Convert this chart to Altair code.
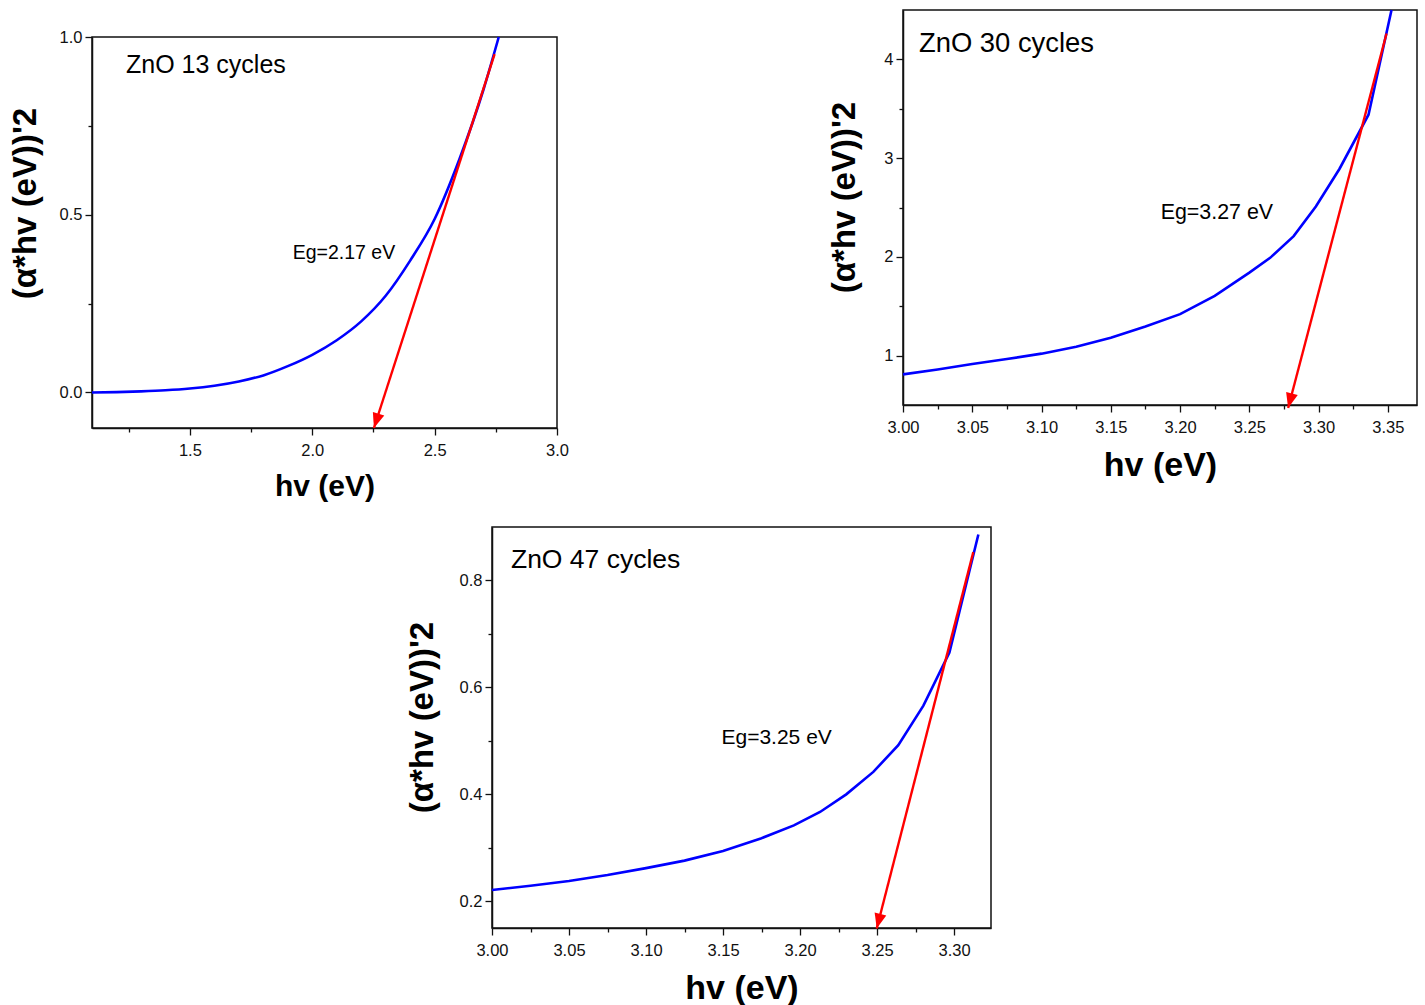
import altair as alt
import pandas as pd

FONT = "Liberation Sans"
INK = "#111111"
BLUE = "#0000ff"
RED = "#ff0000"

# ---------------- Panel 1 : ZnO 13 cycles ----------------
p1_hv = [1.10, 1.20, 1.30, 1.40, 1.50, 1.60, 1.70, 1.80, 1.90, 2.00, 2.10,
         2.20, 2.30, 2.40, 2.50, 2.60, 2.70, 2.762]
p1_val = [0.000, 0.001, 0.003, 0.006, 0.011, 0.019, 0.031, 0.048, 0.074, 0.106,
          0.147, 0.200, 0.272, 0.371, 0.488, 0.654, 0.853, 1.000]
p1_tan_hv = [2.745, 2.252]
p1_tan_val = [0.952, -0.100]
p1_xticks = [1.5, 2.0, 2.5, 3.0]
p1_xminor = [1.25, 1.75, 2.25, 2.75]
p1_yticks = [0.0, 0.5, 1.0]
p1_yminor = [0.25, 0.75]

# ---------------- Panel 2 : ZnO 30 cycles ----------------
p2_hv = [3.000, 3.025, 3.050, 3.075, 3.100, 3.125, 3.150, 3.175, 3.200, 3.225,
         3.250, 3.265, 3.282, 3.298, 3.315, 3.336, 3.3526]
p2_val = [0.81, 0.86, 0.915, 0.965, 1.02, 1.09, 1.18, 1.295, 1.42, 1.605,
          1.84, 1.99, 2.21, 2.51, 2.89, 3.44, 4.50]
p2_tan_hv = [3.349, 3.278]
p2_tan_val = [4.262, 0.470]
p2_xticks = [3.00, 3.05, 3.10, 3.15, 3.20, 3.25, 3.30, 3.35]
p2_xminor = [3.025, 3.075, 3.125, 3.175, 3.225, 3.275, 3.325]
p2_yticks = [1, 2, 3, 4]
p2_yminor = [1.5, 2.5, 3.5]

# ---------------- Panel 3 : ZnO 47 cycles ----------------
p3_hv = [3.000, 3.025, 3.050, 3.075, 3.100, 3.125, 3.150, 3.175, 3.196, 3.213,
         3.230, 3.2476, 3.2638, 3.2801, 3.297, 3.3158]
p3_val = [0.221, 0.229, 0.238, 0.249, 0.262, 0.276, 0.294, 0.318, 0.342, 0.367,
          0.400, 0.442, 0.492, 0.566, 0.665, 0.886]
p3_tan_hv = [3.3125, 3.2498]
p3_tan_val = [0.853, 0.149]
p3_xticks = [3.00, 3.05, 3.10, 3.15, 3.20, 3.25, 3.30]
p3_xminor = [3.025, 3.075, 3.125, 3.175, 3.225, 3.275, 3.325]
p3_yticks = [0.2, 0.4, 0.6, 0.8]
p3_yminor = [0.3, 0.5, 0.7]

X_TITLE = "hv (eV)"
Y_TITLE = "(α*hv (eV))'2"

ARROW = "M0,0L-0.4,-1L0.4,-1Z"


def panel(hv, val, t_hv, t_val, xdom, ydom, xt, xm, yt, ym, xfmt, yfmt,
          w, h, label, label_at, label_size, eg, eg_at, eg_size, angle,
          xtitle_size, ytitle_y, ytitle_pad, interp):
    curve = pd.DataFrame({"hv": hv, "v": val})
    tang = pd.DataFrame({"hv": t_hv, "v": t_val})
    tip = tang.iloc[[-1]]
    xs = alt.Scale(domain=xdom, nice=False, zero=False)
    ys = alt.Scale(domain=ydom, nice=False, zero=False)
    common = dict(grid=False, tickColor=INK, domainColor=INK, domainWidth=1.5,
                  tickWidth=1.3)
    ax_x = alt.Axis(values=xt, format=xfmt, orient="bottom", title=X_TITLE,
                    tickSize=7, labelFont=FONT, labelFontSize=16.5, labelColor=INK,
                    labelPadding=7, labelFlush=False, labelOverlap=False,
                    titleFont=FONT, titleFontSize=xtitle_size, titleFontWeight="bold",
                    titleColor="#000000", titlePadding=13, **common)
    ax_y = alt.Axis(values=yt, format=yfmt, orient="left", title=Y_TITLE,
                    tickSize=7, labelFont=FONT, labelFontSize=16.5, labelColor=INK,
                    labelPadding=3, labelFlush=False, labelOverlap=False,
                    titleFont=FONT, titleFontSize=33, titleFontWeight="bold",
                    titleColor="#000000", titlePadding=ytitle_pad, titleY=ytitle_y,
                    **common)
    mx = alt.Axis(values=xm, orient="bottom", labels=False, tickSize=4, domain=False,
                  title=None, grid=False, tickColor=INK, tickWidth=1.3)
    my = alt.Axis(values=ym, orient="left", labels=False, tickSize=4, domain=False,
                  title=None, grid=False, tickColor=INK, tickWidth=1.3)

    blue = alt.Chart(curve).mark_line(color=BLUE, strokeWidth=2.6,
                                      interpolate=interp).encode(
        x=alt.X("hv:Q", scale=xs, axis=ax_x),
        y=alt.Y("v:Q", scale=ys, axis=ax_y),
    )
    red = alt.Chart(tang).mark_line(color=RED, strokeWidth=2.4).encode(
        x=alt.X("hv:Q", scale=xs, axis=mx),
        y=alt.Y("v:Q", scale=ys, axis=my),
    )
    head = alt.Chart(tip).mark_point(shape=ARROW, size=900, angle=angle, filled=True,
                                     color=RED, opacity=1, strokeWidth=0).encode(
        x=alt.X("hv:Q", scale=xs, axis=None),
        y=alt.Y("v:Q", scale=ys, axis=None),
    )
    t1 = alt.Chart(pd.DataFrame({"t": [label]})).mark_text(
        align="left", baseline="middle", font=FONT, fontSize=label_size, color="#000000"
    ).encode(
        x=alt.XDatum(label_at[0], type="quantitative", scale=xs, axis=None),
        y=alt.YDatum(label_at[1], type="quantitative", scale=ys, axis=None),
        text="t:N",
    )
    t2 = alt.Chart(pd.DataFrame({"t": [eg]})).mark_text(
        align="left", baseline="middle", font=FONT, fontSize=eg_size, color="#000000"
    ).encode(
        x=alt.XDatum(eg_at[0], type="quantitative", scale=xs, axis=None),
        y=alt.YDatum(eg_at[1], type="quantitative", scale=ys, axis=None),
        text="t:N",
    )
    return alt.layer(blue, red, head, t1, t2).resolve_axis(
        x="independent", y="independent"
    ).properties(width=w, height=h)


def spacer(w, h):
    return alt.Chart(pd.DataFrame({"s": [0]})).mark_point(opacity=0, size=1).properties(
        width=w, height=h, view=alt.ViewBackground(stroke="transparent")
    )


p1 = panel(p1_hv, p1_val, p1_tan_hv, p1_tan_val, [1.1, 3.0], [-0.1, 1.0],
           p1_xticks, p1_xminor, p1_yticks, p1_yminor, ".1f", ".1f",
           465, 391, "ZnO 13 cycles", (1.239, 0.921), 25,
           "Eg=2.17 eV", (1.920, 0.392), 19.5, 18, 30, 166, 17, "monotone")
p2 = panel(p2_hv, p2_val, p2_tan_hv, p2_tan_val, [3.0, 3.371], [0.5, 4.5],
           p2_xticks, p2_xminor, p2_yticks, p2_yminor, ".2f", "d",
           514, 395, "ZnO 30 cycles", (3.0115, 4.151), 27.4,
           "Eg=3.27 eV", (3.186, 2.449), 21.4, 14.7, 34, 187, 22, "linear")
p3 = panel(p3_hv, p3_val, p3_tan_hv, p3_tan_val, [3.0, 3.324], [0.15, 0.9],
           p3_xticks, p3_xminor, p3_yticks, p3_yminor, ".2f", ".1f",
           499, 401, "ZnO 47 cycles", (3.0123, 0.839), 26.5,
           "Eg=3.25 eV", (3.149, 0.5047), 21, 14.4, 34, 190, 20, "linear")

row1 = alt.hconcat(alt.vconcat(spacer(1, 17), p1, spacing=0), p2, spacing=258)
row2 = alt.hconcat(spacer(312, 1), p3, spacing=0)

chart = alt.vconcat(row1, row2, spacing=23).properties(
    padding={"left": 8, "top": 4, "right": 0, "bottom": 0},
    background="white",
).configure_view(stroke=INK, strokeWidth=1.5)

chart.save("out.html", embed_options={"renderer": "svg", "actions": False})
